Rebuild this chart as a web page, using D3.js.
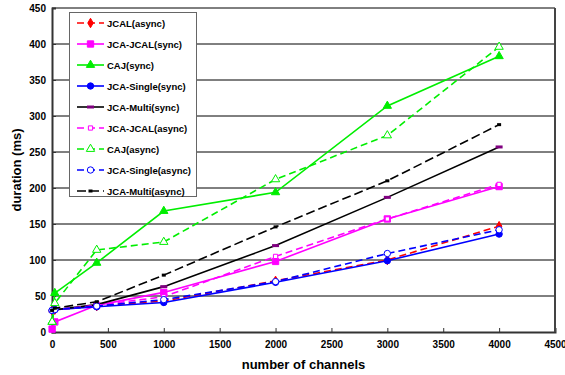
<!DOCTYPE html>
<html>
<head>
<meta charset="utf-8">
<script src="https://cdn.jsdelivr.net/npm/d3@7"></script>
<style>
  body { margin: 0; background: #fff; }
  text { font-family: "Liberation Sans", Arial, sans-serif; font-weight: bold; }
</style>
</head>
<body>
<svg id="chart" width="565" height="375"></svg>
<script>
// number of channels (x) and duration in ms for each series
const channels = [1, 25, 400, 1000, 2000, 3000, 4000];
const jcalAsync = [30, 31, 36, 43, 71, 100, 147];
const jcaJcalSync = [4, 14, 37, 55, 98, 157, 202];
const cajSync = [14, 54, 96, 168, 194, 314, 383];
const jcaSingleSync = [30, 31, 35, 41, 69, 99, 136];
const jcaMultiSync = [29, 31, 38, 63, 120, 187, 257];
const jcaJcalAsync = [30, 31, 37, 49, 105, 157, 205];
const cajAsync = [14, 40, 114, 125, 212, 273, 396];
const jcaSingleAsync = [30, 31, 36, 45, 70, 109, 142];
const jcaMultiAsync = [30, 33, 42, 79, 146, 210, 288];

const xTicks = d3.range(0, 4501, 500);
const yTicks = d3.range(0, 451, 50);

const series = [
    { name: "JCAL(async)", values: jcalAsync, color: "#ff0000", dash: "7,4", marker: "diamond", fill: true },
    { name: "JCA-JCAL(sync)", values: jcaJcalSync, color: "#ff00ff", dash: null, marker: "square", fill: true },
    { name: "CAJ(sync)", values: cajSync, color: "#00ee00", dash: null, marker: "triangle", fill: true },
    { name: "JCA-Single(sync)", values: jcaSingleSync, color: "#0000ff", dash: null, marker: "circle", fill: true },
    { name: "JCA-Multi(sync)", values: jcaMultiSync, color: "#000000", dash: null, marker: "bar", fill: true, markColor: "#800080" },
    { name: "JCA-JCAL(async)", values: jcaJcalAsync, color: "#ff00ff", dash: "7,4", marker: "smallsquare", fill: false },
    { name: "CAJ(async)", values: cajAsync, color: "#00ee00", dash: "7,4", marker: "triangle", fill: false },
    { name: "JCA-Single(async)", values: jcaSingleAsync, color: "#0000ff", dash: "7,4", marker: "circle", fill: false },
    { name: "JCA-Multi(async)", values: jcaMultiAsync, color: "#000000", dash: "9,4", marker: "smallbar", fill: true }
];

const svg = d3.select("#chart");
const x = d3.scaleLinear().domain([0, 4500]).range([52, 555]);
const y = d3.scaleLinear().domain([0, 450]).range([332, 8]);

// gridlines
svg.append("g").selectAll("line")
    .data(yTicks.filter(d => d > 0))
    .join("line")
    .attr("x1", x(0)).attr("x2", x(4500))
    .attr("y1", d => y(d)).attr("y2", d => y(d))
    .attr("stroke", "#000").attr("stroke-width", 1);

// axes
const xAxis = d3.axisBottom(x).tickValues(xTicks).tickFormat(d3.format("d")).tickSize(-4).tickPadding(9);
const yAxis = d3.axisLeft(y).tickValues(yTicks).tickFormat(d3.format("d")).tickSize(-4).tickPadding(6);

const gx = svg.append("g").attr("transform", `translate(0,${y(0)})`).call(xAxis);
const gy = svg.append("g").attr("transform", `translate(${x(0)},0)`).call(yAxis);
[gx, gy].forEach(g => {
    g.select(".domain").attr("stroke", "#333").attr("stroke-width", 2);
    g.selectAll(".tick line").attr("stroke", "#333");
    g.selectAll(".tick text").attr("fill", "#000")
        .style("font-size", "10px").style("font-weight", "bold")
        .style("font-family", "'Liberation Sans', Arial, sans-serif");
});

// right border
svg.append("line")
    .attr("x1", x(4500)).attr("x2", x(4500))
    .attr("y1", y(450)).attr("y2", y(0))
    .attr("stroke", "#444").attr("stroke-width", 2);

// axis titles
svg.append("text")
    .attr("x", (x(0) + x(4500)) / 2).attr("y", 369)
    .attr("text-anchor", "middle").style("font-size", "13px")
    .text("number of channels");
svg.append("text")
    .attr("transform", `translate(21,${y(225)}) rotate(-90)`)
    .attr("text-anchor", "middle").style("font-size", "13px")
    .text("duration (ms)");

function drawMarker(g, s, cx, cy) {
    const stroke = s.markColor || s.color;
    const fill = s.fill ? stroke : "#fff";
    if (s.marker === "bar" || s.marker === "smallbar") {
        const w = s.marker === "bar" ? 7 : 4;
        g.append("rect")
            .attr("x", cx - w / 2).attr("y", cy - 1.5)
            .attr("width", w).attr("height", 3)
            .attr("fill", stroke);
        return;
    }
    const types = {
        diamond: [d3.symbolDiamond, 26],
        square: [d3.symbolSquare, 40],
        smallsquare: [d3.symbolSquare, 18],
        triangle: [d3.symbolTriangle, 30],
        circle: [d3.symbolCircle, 32]
    };
    const t = types[s.marker];
    g.append("path")
        .attr("d", d3.symbol().type(t[0]).size(t[1])())
        .attr("transform", `translate(${cx},${cy})`)
        .attr("fill", fill)
        .attr("stroke", stroke)
        .attr("stroke-width", 1);
}

// lines and markers
const line = d3.line()
    .x(d => x(d[0]))
    .y(d => y(d[1]));

series.forEach(s => {
    const pts = channels.map((c, i) => [c, s.values[i]]);
    const g = svg.append("g");
    g.append("path")
        .attr("d", line(pts))
        .attr("fill", "none")
        .attr("stroke", s.color)
        .attr("stroke-width", 1.6)
        .attr("stroke-dasharray", s.dash);
    pts.forEach(p => drawMarker(g, s, x(p[0]), y(p[1])));
});

// legend
const legend = svg.append("g");
legend.append("rect")
    .attr("x", 69.5).attr("y", 12.5)
    .attr("width", 127).attr("height", 184)
    .attr("fill", "#fff").attr("stroke", "#666").attr("stroke-width", 1);

series.forEach((s, i) => {
    const ly = 23 + i * 21;
    const row = legend.append("g");
    row.append("line")
        .attr("x1", 77).attr("x2", 104)
        .attr("y1", ly).attr("y2", ly)
        .attr("stroke", s.color).attr("stroke-width", 1.6)
        .attr("stroke-dasharray", s.dash);
    drawMarker(row, s, 90.5, ly);
    row.append("text")
        .attr("x", 107).attr("y", ly + 3.5)
        .style("font-size", "9.5px")
        .text(s.name);
});
</script>
</body>
</html>
